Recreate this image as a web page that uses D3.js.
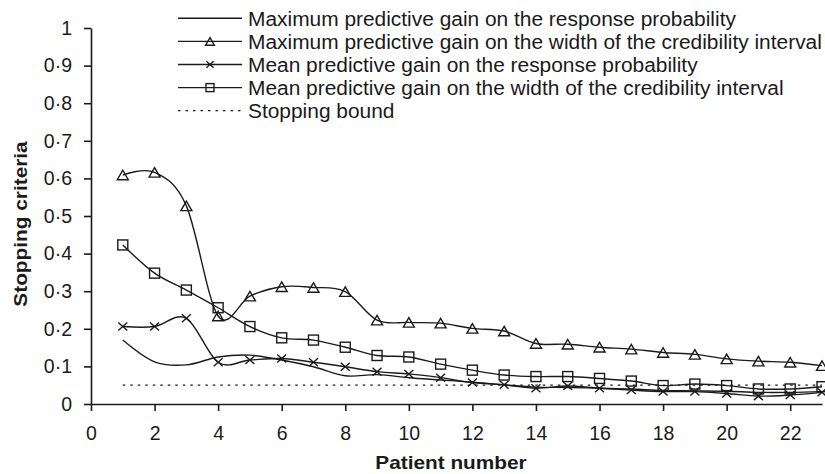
<!DOCTYPE html>
<html>
<head>
<meta charset="utf-8">
<script src="https://cdn.jsdelivr.net/npm/d3@7"></script>
<style>
  html, body { margin: 0; padding: 0; background: #fff; }
  svg { display: block; }
  text { font-family: "Liberation Sans", Arial, Helvetica, sans-serif; fill: #1a1a1a; }
</style>
</head>
<body>
<svg id="chart" width="825" height="474"></svg>
<script>
// ---------------- data ----------------
const patients = [1,2,3,4,5,6,7,8,9,10,11,12,13,14,15,16,17,18,19,20,21,22,23];
const maxGainResp  = [0.170,0.112,0.104,0.125,0.130,0.117,0.099,0.075,0.078,0.070,0.064,0.058,0.051,0.045,0.044,0.042,0.040,0.036,0.035,0.034,0.031,0.031,0.033];
const maxGainWidth = [0.609,0.616,0.527,0.234,0.287,0.312,0.310,0.299,0.223,0.217,0.215,0.201,0.194,0.161,0.159,0.151,0.146,0.137,0.132,0.120,0.114,0.111,0.102];
const meanGainResp = [0.206,0.206,0.228,0.111,0.117,0.121,0.111,0.099,0.086,0.080,0.070,0.057,0.051,0.042,0.048,0.042,0.037,0.033,0.033,0.028,0.021,0.024,0.031];
const meanGainWidth= [0.423,0.348,0.303,0.256,0.206,0.176,0.170,0.151,0.129,0.125,0.106,0.090,0.077,0.073,0.073,0.068,0.061,0.049,0.053,0.049,0.040,0.040,0.046];
const stoppingBound= [0.05,0.05,0.05,0.05,0.05,0.05,0.05,0.05,0.05,0.05,0.05,0.05,0.05,0.05,0.05,0.05,0.05,0.05,0.05,0.05,0.05,0.05,0.05];
const seriesNames = [
  "Maximum predictive gain on the response probability",
  "Maximum predictive gain on the width of the credibility interval",
  "Mean predictive gain on the response probability",
  "Mean predictive gain on the width of the credibility interval",
  "Stopping bound"
];
const xTickValues = [0,2,4,6,8,10,12,14,16,18,20,22];
const yTickValues = [0,0.1,0.2,0.3,0.4,0.5,0.6,0.7,0.8,0.9,1];
const xTitle = "Patient number";
const yTitle = "Stopping criteria";

// ---------------- layout ----------------
const svg = d3.select("#chart");
const INK = "#1a1a1a";
const x = d3.scaleLinear().domain([0, 23]).range([91, 822]);
const y = d3.scaleLinear().domain([0, 1]).range([404, 28]);

function stretch(sel, k) {
  sel.each(function() {
    const len = this.getComputedTextLength();
    d3.select(this).attr("textLength", len * k).attr("lengthAdjust", "spacingAndGlyphs");
  });
}

// axes
const yFmt = d => d === 0 ? "0" : d === 1 ? "1" : d3.format(".1f")(d).replace(".", "\u00B7");
const gy = svg.append("g").attr("transform", `translate(${x(0)},0)`)
  .call(d3.axisLeft(y).tickValues(yTickValues).tickFormat(yFmt).tickSize(7).tickSizeOuter(0).tickPadding(12));
const gx = svg.append("g").attr("transform", `translate(0,${y(0)})`)
  .call(d3.axisBottom(x).tickValues(xTickValues).tickFormat(d3.format("d")).tickSize(7).tickSizeOuter(0).tickPadding(15));
[gx, gy].forEach(g => {
  g.select(".domain").attr("stroke", INK).attr("stroke-width", 1.6);
  g.selectAll(".tick line").attr("stroke", INK).attr("stroke-width", 1.6);
  g.selectAll(".tick text").attr("font-size", 19.5).attr("fill", INK)
    .style("font-family", "'Liberation Sans', Arial, sans-serif");
});

// titles
const xt = svg.append("text").attr("x", 451).attr("y", 469).attr("text-anchor", "middle")
  .attr("font-size", 19).attr("font-weight", "bold").text(xTitle);
stretch(xt, 1.095);
const yt = svg.append("text").attr("transform", "translate(27,224) rotate(-90)").attr("text-anchor", "middle")
  .attr("font-size", 19).attr("font-weight", "bold").text(yTitle);
stretch(yt, 1.095);

// lines
const curve = d3.curveCatmullRom.alpha(0);
const lineGen = d3.line().x((d, i) => x(patients[i])).y(d => y(d)).curve(curve);
const plot = svg.append("g");
const lineStyle = p => p.attr("fill", "none").attr("stroke", INK).attr("stroke-width", 1.4);

plot.append("path").datum(stoppingBound)
  .attr("d", d3.line().x((d, i) => x(patients[i])).y(d => y(d)))
  .attr("fill", "none").attr("stroke", INK).attr("stroke-width", 1.3).attr("stroke-dasharray", "2.5,5");
[maxGainResp, maxGainWidth, meanGainResp, meanGainWidth].forEach(s => {
  plot.append("path").datum(s).attr("d", lineGen).call(lineStyle);
});

// markers
function triangle(g, cx, cy, s) {
  const w = 11 * s, h = 9.5 * s;
  g.append("path").attr("d", `M${cx},${cy - h/2}L${cx + w/2},${cy + h/2}L${cx - w/2},${cy + h/2}Z`)
    .attr("fill", "none").attr("stroke", INK).attr("stroke-width", 1.4);
}
function square(g, cx, cy, s) {
  const a = 10 * s;
  g.append("rect").attr("x", cx - a/2).attr("y", cy - a/2).attr("width", a).attr("height", a)
    .attr("fill", "none").attr("stroke", INK).attr("stroke-width", 1.4);
}
function cross(g, cx, cy, s) {
  const w = 4.5 * s, h = 4 * s;
  g.append("path").attr("d", `M${cx - w},${cy - h}L${cx + w},${cy + h}M${cx - w},${cy + h}L${cx + w},${cy - h}`)
    .attr("fill", "none").attr("stroke", INK).attr("stroke-width", 1.4);
}
const mk = svg.append("g");
maxGainWidth.forEach((v, i) => triangle(mk, x(patients[i]), y(v), 1));
meanGainResp.forEach((v, i) => cross(mk, x(patients[i]), y(v), 1));
meanGainWidth.forEach((v, i) => square(mk, x(patients[i]), y(v), 1));

// legend
const lg = svg.append("g");
const rowY = i => 18.3 + i * 23.1;
const markerFns = [null, triangle, cross, square, null];
seriesNames.forEach((name, i) => {
  const yy = rowY(i);
  const ln = lg.append("line").attr("x1", 178).attr("x2", 242).attr("y1", yy).attr("y2", yy)
    .attr("stroke", INK).attr("stroke-width", 1.4);
  if (i === 4) ln.attr("stroke-dasharray", "2.5,5").attr("stroke-width", 1.3);
  if (markerFns[i]) markerFns[i](lg, 210, yy, 0.8);
  const t = lg.append("text").attr("x", 248).attr("y", yy + 7.2).attr("font-size", 20).text(name);
  stretch(t, 1.045);
});
</script>
</body>
</html>
